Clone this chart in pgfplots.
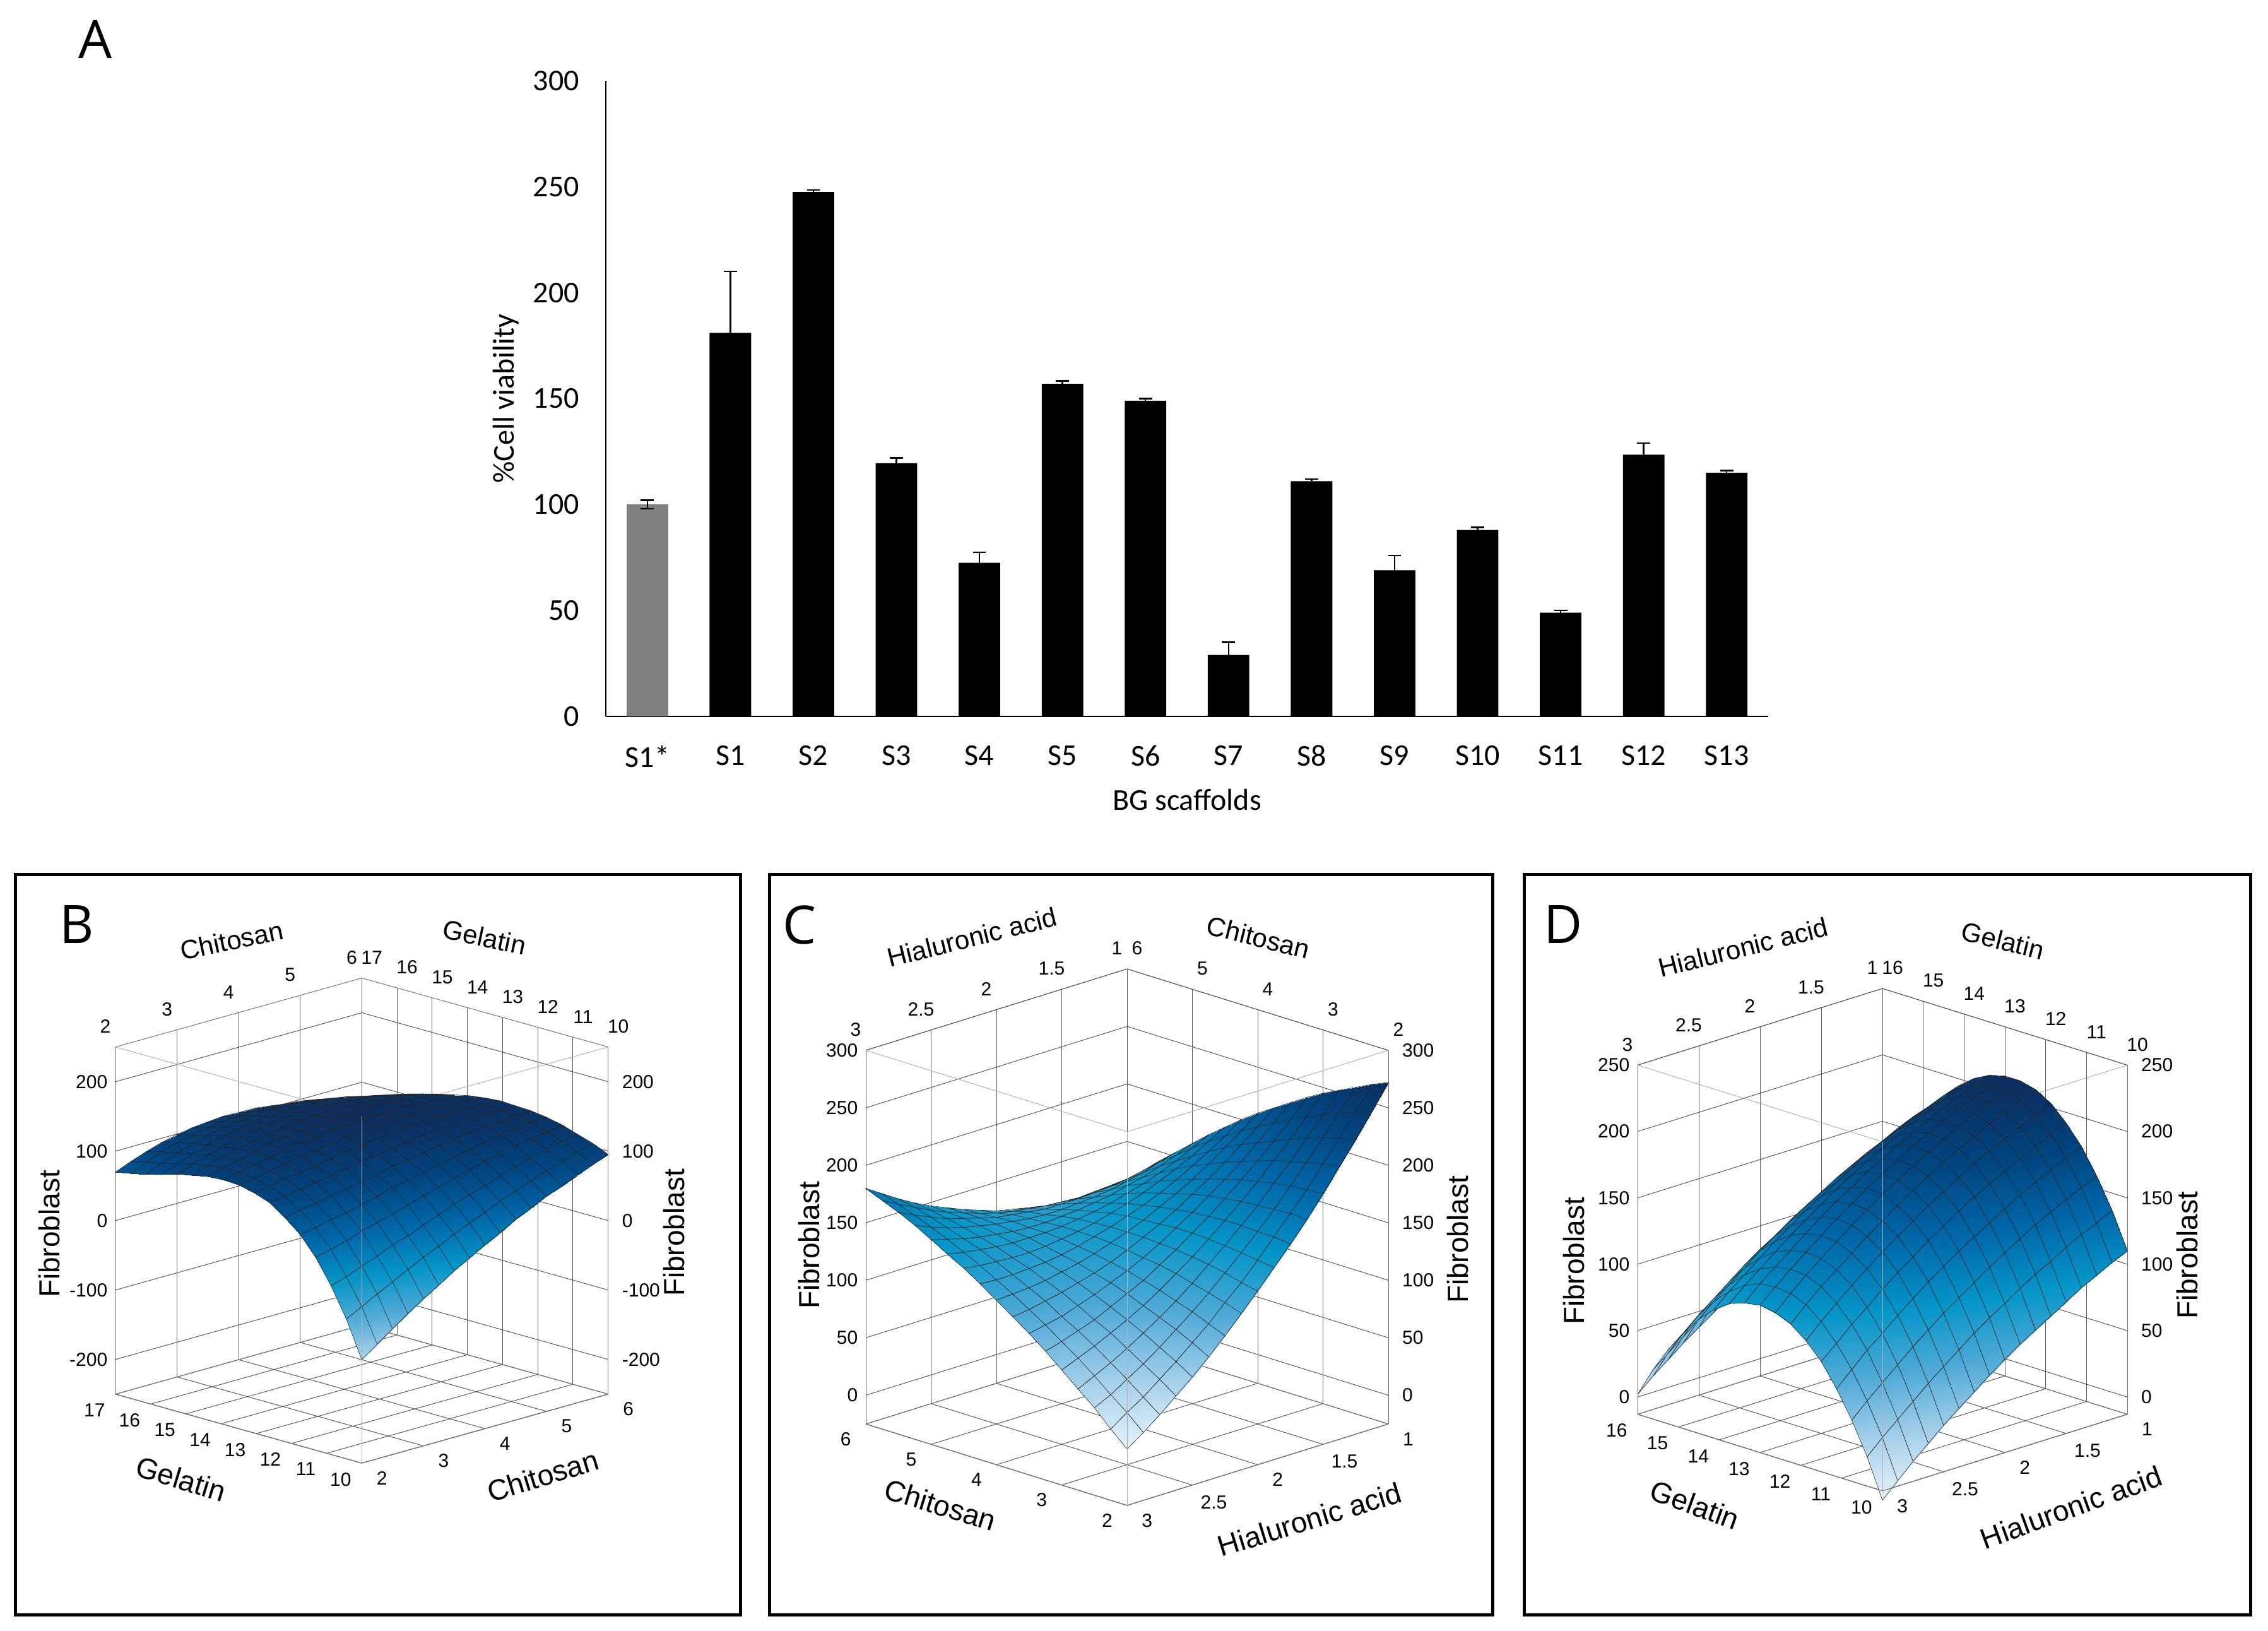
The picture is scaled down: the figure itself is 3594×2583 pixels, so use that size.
\documentclass[border=0pt]{standalone}
\usepackage{fontspec}
\setmainfont{Liberation Sans}
\newfontfamily\carlito{Carlito}
\newfontfamily\opensans{Open Sans}
\usepackage{pgfplots}
\usepackage{pgfplotstable}
\pgfplotsset{compat=1.18}

\tikzset{
  frontlight/.style={black!30,line width=0.25pt},
  frontdark/.style={black!55,line width=0.25pt},
}
\pgfplotsset{
  colormap={dblue}{rgb255=(232,243,251) rgb255=(165,208,235) rgb255=(80,170,215) rgb255=(5,150,200) rgb255=(0,105,170) rgb255=(0,70,130) rgb255=(12,46,95)},
  surfbox/.style={
    3d box=background,
    colormap name=dblue,
    grid=major,
    grid style={black!65,line width=0.25pt},
    axis line style={black!55,line width=0.25pt},
    major tick length=0pt,
    tick label style={font=\fontsize{7.5}{9}\selectfont,inner sep=1pt},
    xticklabel style={xshift=5pt,yshift=-2pt},
    yticklabel style={xshift=-5pt,yshift=-2pt},
    zticklabel style={xshift=-2pt},
    /pgf/number format/assume math mode=true,
    clip=false,
  },
  surfplot/.style={
    surf,shader=faceted interp,z buffer=sort,
    faceted color=black!85,line width=0.15pt,
    mesh/rows=17,mesh/cols=17,mesh/ordering=y varies,
  },
}
\newcommand{\tl}{\fontsize{7.5}{9}\selectfont}
\newcommand{\ttitle}{\fontsize{10.5}{12}\selectfont}
\newcommand{\ftitle}{\fontsize{11.5}{13}\selectfont}

\pgfplotstableread{
chi gel z
2 10 -101
2 10.4375 -49
2 10.875 -7
2 11.3125 28
2 11.75 54
2 12.1875 73
2 12.625 88
2 13.0625 96
2 13.5 101
2 13.9375 102
2 14.375 101
2 14.8125 96
2 15.25 92
2 15.6875 85
2 16.125 79
2 16.5625 74
2 17 70
2.25 10 -85
2.25 10.4375 -37
2.25 10.875 0
2.25 11.3125 33
2.25 11.75 58
2.25 12.1875 77
2.25 12.625 91
2.25 13.0625 99
2.25 13.5 105
2.25 13.9375 107
2.25 14.375 107
2.25 14.8125 104
2.25 15.25 100
2.25 15.6875 94
2.25 16.125 89
2.25 16.5625 84
2.25 17 79
2.5 10 -69
2.5 10.4375 -25
2.5 10.875 9
2.5 11.3125 39
2.5 11.75 64
2.5 12.1875 81
2.5 12.625 95
2.5 13.0625 104
2.5 13.5 109
2.5 13.9375 112
2.5 14.375 112
2.5 14.8125 111
2.5 15.25 107
2.5 15.6875 102
2.5 16.125 97
2.5 16.5625 93
2.5 17 87
2.75 10 -53
2.75 10.4375 -14
2.75 10.875 17
2.75 11.3125 47
2.75 11.75 67
2.75 12.1875 85
2.75 12.625 98
2.75 13.0625 106
2.75 13.5 113
2.75 13.9375 116
2.75 14.375 118
2.75 14.8125 116
2.75 15.25 113
2.75 15.6875 109
2.75 16.125 105
2.75 16.5625 100
2.75 17 94
3 10 -38
3 10.4375 -2
3 10.875 27
3 11.3125 53
3 11.75 73
3 12.1875 89
3 12.625 102
3 13.0625 110
3 13.5 117
3 13.9375 120
3 14.375 123
3 14.8125 121
3 15.25 119
3 15.6875 116
3 16.125 110
3 16.5625 104
3 17 99
3.25 10 -25
3.25 10.4375 9
3.25 10.875 34
3.25 11.3125 59
3.25 11.75 78
3.25 12.1875 93
3.25 12.625 106
3.25 13.0625 114
3.25 13.5 120
3.25 13.9375 125
3.25 14.375 127
3.25 14.8125 125
3.25 15.25 123
3.25 15.6875 120
3.25 16.125 116
3.25 16.5625 109
3.25 17 103
3.5 10 -10
3.5 10.4375 19
3.5 10.875 43
3.5 11.3125 66
3.5 11.75 85
3.5 12.1875 97
3.5 12.625 110
3.5 13.0625 118
3.5 13.5 123
3.5 13.9375 126
3.5 14.375 130
3.5 14.8125 129
3.5 15.25 127
3.5 15.6875 124
3.5 16.125 118
3.5 16.5625 112
3.5 17 105
3.75 10 2
3.75 10.4375 30
3.75 10.875 52
3.75 11.3125 73
3.75 11.75 89
3.75 12.1875 103
3.75 12.625 114
3.75 13.0625 121
3.75 13.5 127
3.75 13.9375 131
3.75 14.375 133
3.75 14.8125 132
3.75 15.25 129
3.75 15.6875 126
3.75 16.125 121
3.75 16.5625 113
3.75 17 107
4 10 15
4 10.4375 40
4 10.875 61
4 11.3125 79
4 11.75 94
4 12.1875 106
4 12.625 117
4 13.0625 124
4 13.5 129
4 13.9375 132
4 14.375 134
4 14.8125 133
4 15.25 131
4 15.6875 126
4 16.125 122
4 16.5625 114
4 17 106
4.25 10 26
4.25 10.4375 49
4.25 10.875 68
4.25 11.3125 86
4.25 11.75 99
4.25 12.1875 110
4.25 12.625 120
4.25 13.0625 127
4.25 13.5 130
4.25 13.9375 135
4.25 14.375 135
4.25 14.8125 133
4.25 15.25 132
4.25 15.6875 126
4.25 16.125 121
4.25 16.5625 113
4.25 17 106
4.5 10 39
4.5 10.4375 59
4.5 10.875 75
4.5 11.3125 92
4.5 11.75 104
4.5 12.1875 114
4.5 12.625 123
4.5 13.0625 130
4.5 13.5 133
4.5 13.9375 134
4.5 14.375 135
4.5 14.8125 133
4.5 15.25 130
4.5 15.6875 126
4.5 16.125 120
4.5 16.5625 112
4.5 17 103
4.75 10 49
4.75 10.4375 68
4.75 10.875 83
4.75 11.3125 98
4.75 11.75 109
4.75 12.1875 118
4.75 12.625 125
4.75 13.0625 130
4.75 13.5 134
4.75 13.9375 134
4.75 14.375 136
4.75 14.8125 132
4.75 15.25 129
4.75 15.6875 123
4.75 16.125 117
4.75 16.5625 110
4.75 17 99
5 10 60
5 10.4375 76
5 10.875 90
5 11.3125 103
5 11.75 113
5 12.1875 121
5 12.625 127
5 13.0625 131
5 13.5 134
5 13.9375 135
5 14.375 134
5 14.8125 130
5 15.25 126
5 15.6875 121
5 16.125 114
5 16.5625 106
5 17 96
5.25 10 68
5.25 10.4375 84
5.25 10.875 96
5.25 11.3125 108
5.25 11.75 117
5.25 12.1875 123
5.25 12.625 128
5.25 13.0625 132
5.25 13.5 133
5.25 13.9375 132
5.25 14.375 131
5.25 14.8125 128
5.25 15.25 124
5.25 15.6875 117
5.25 16.125 110
5.25 16.5625 101
5.25 17 90
5.5 10 78
5.5 10.4375 91
5.5 10.875 103
5.5 11.3125 112
5.5 11.75 120
5.5 12.1875 124
5.5 12.625 130
5.5 13.0625 132
5.5 13.5 131
5.5 13.9375 130
5.5 14.375 128
5.5 14.8125 124
5.5 15.25 118
5.5 15.6875 112
5.5 16.125 104
5.5 16.5625 94
5.5 17 84
5.75 10 87
5.75 10.4375 99
5.75 10.875 108
5.75 11.3125 115
5.75 11.75 123
5.75 12.1875 126
5.75 12.625 129
5.75 13.0625 130
5.75 13.5 130
5.75 13.9375 128
5.75 14.375 125
5.75 14.8125 119
5.75 15.25 114
5.75 15.6875 107
5.75 16.125 98
5.75 16.5625 88
5.75 17 77
6 10 95
6 10.4375 105
6 10.875 112
6 11.3125 119
6 11.75 124
6 12.1875 127
6 12.625 128
6 13.0625 129
6 13.5 127
6 13.9375 124
6 14.375 119
6 14.8125 114
6 15.25 108
6 15.6875 99
6 16.125 90
6 16.5625 80
6 17 69
}\surfB

\pgfplotstableread{
ha chi z
1 2 272
1 2.25 266
1 2.5 259
1 2.75 252
1 3 245
1 3.25 237
1 3.5 228
1 3.75 219
1 4 210
1 4.25 200
1 4.5 189
1 4.75 178
1 5 166
1 5.25 154
1 5.5 142
1 5.75 128
1 6 115
1.125 2 251
1.125 2.25 246
1.125 2.5 241
1.125 2.75 235
1.125 3 229
1.125 3.25 222
1.125 3.5 215
1.125 3.75 207
1.125 4 199
1.125 4.25 190
1.125 4.5 181
1.125 4.75 171
1.125 5 160
1.125 5.25 150
1.125 5.5 138
1.125 5.75 126
1.125 6 114
1.25 2 231
1.25 2.25 228
1.25 2.5 224
1.25 2.75 219
1.25 3 214
1.25 3.25 208
1.25 3.5 202
1.25 3.75 196
1.25 4 189
1.25 4.25 181
1.25 4.5 173
1.25 4.75 164
1.25 5 155
1.25 5.25 145
1.25 5.5 135
1.25 5.75 125
1.25 6 113
1.375 2 212
1.375 2.25 210
1.375 2.5 207
1.375 2.75 203
1.375 3 200
1.375 3.25 195
1.375 3.5 190
1.375 3.75 185
1.375 4 179
1.375 4.25 173
1.375 4.5 166
1.375 4.75 158
1.375 5 150
1.375 5.25 142
1.375 5.5 133
1.375 5.75 124
1.375 6 114
1.5 2 193
1.5 2.25 192
1.5 2.5 191
1.5 2.75 189
1.5 3 186
1.5 3.25 183
1.5 3.5 179
1.5 3.75 175
1.5 4 170
1.5 4.25 165
1.5 4.5 160
1.5 4.75 153
1.5 5 147
1.5 5.25 139
1.5 5.5 132
1.5 5.75 123
1.5 6 115
1.625 2 175
1.625 2.25 176
1.625 2.5 175
1.625 2.75 174
1.625 3 173
1.625 3.25 171
1.625 3.5 169
1.625 3.75 166
1.625 4 162
1.625 4.25 158
1.625 4.5 154
1.625 4.75 149
1.625 5 143
1.625 5.25 137
1.625 5.5 131
1.625 5.75 124
1.625 6 116
1.75 2 158
1.75 2.25 160
1.75 2.5 160
1.75 2.75 161
1.75 3 161
1.75 3.25 160
1.75 3.5 159
1.75 3.75 157
1.75 4 155
1.75 4.25 152
1.75 4.5 149
1.75 4.75 145
1.75 5 141
1.75 5.25 136
1.75 5.5 131
1.75 5.75 125
1.75 6 119
1.875 2 142
1.875 2.25 144
1.875 2.5 146
1.875 2.75 148
1.875 3 149
1.875 3.25 150
1.875 3.5 150
1.875 3.75 149
1.875 4 148
1.875 4.25 147
1.875 4.5 145
1.875 4.75 142
1.875 5 139
1.875 5.25 135
1.875 5.5 131
1.875 5.75 127
1.875 6 122
2 2 126
2 2.25 129
2 2.5 133
2 2.75 136
2 3 138
2 3.25 140
2 3.5 141
2 3.75 142
2 4 142
2 4.25 142
2 4.5 141
2 4.75 140
2 5 138
2 5.25 135
2 5.5 133
2 5.75 129
2 6 125
2.125 2 111
2.125 2.25 116
2.125 2.5 120
2.125 2.75 124
2.125 3 128
2.125 3.25 131
2.125 3.5 133
2.125 3.75 135
2.125 4 137
2.125 4.25 138
2.125 4.5 138
2.125 4.75 138
2.125 5 137
2.125 5.25 136
2.125 5.5 135
2.125 5.75 132
2.125 6 130
2.25 2 96
2.25 2.25 102
2.25 2.5 108
2.25 2.75 113
2.25 3 118
2.25 3.25 122
2.25 3.5 126
2.25 3.75 129
2.25 4 132
2.25 4.25 134
2.25 4.5 136
2.25 4.75 137
2.25 5 137
2.25 5.25 138
2.25 5.5 137
2.25 5.75 136
2.25 6 135
2.375 2 82
2.375 2.25 90
2.375 2.5 97
2.375 2.75 103
2.375 3 109
2.375 3.25 115
2.375 3.5 120
2.375 3.75 124
2.375 4 128
2.375 4.25 131
2.375 4.5 134
2.375 4.75 137
2.375 5 138
2.375 5.25 140
2.375 5.5 141
2.375 5.75 141
2.375 6 141
2.5 2 69
2.5 2.25 78
2.5 2.5 86
2.5 2.75 94
2.5 3 101
2.5 3.25 108
2.5 3.5 114
2.5 3.75 120
2.5 4 125
2.5 4.25 129
2.5 4.5 133
2.5 4.75 137
2.5 5 140
2.5 5.25 143
2.5 5.5 145
2.5 5.75 146
2.5 6 147
2.625 2 57
2.625 2.25 67
2.625 2.5 76
2.625 2.75 85
2.625 3 94
2.625 3.25 101
2.625 3.5 109
2.625 3.75 116
2.625 4 122
2.625 4.25 128
2.625 4.5 133
2.625 4.75 138
2.625 5 142
2.625 5.25 146
2.625 5.5 149
2.625 5.75 152
2.625 6 154
2.75 2 45
2.75 2.25 56
2.75 2.5 67
2.75 2.75 77
2.75 3 87
2.75 3.25 96
2.75 3.5 104
2.75 3.75 113
2.75 4 120
2.75 4.25 127
2.75 4.5 134
2.75 4.75 140
2.75 5 145
2.75 5.25 150
2.75 5.5 155
2.75 5.75 159
2.75 6 162
2.875 2 34
2.875 2.25 47
2.875 2.5 58
2.875 2.75 70
2.875 3 81
2.875 3.25 91
2.875 3.5 101
2.875 3.75 110
2.875 4 119
2.875 4.25 127
2.875 4.5 135
2.875 4.75 142
2.875 5 149
2.875 5.25 155
2.875 5.5 161
2.875 5.75 166
2.875 6 171
3 2 24
3 2.25 37
3 2.5 51
3 2.75 63
3 3 75
3 3.25 87
3 3.5 98
3 3.75 108
3 4 118
3 4.25 128
3 4.5 137
3 4.75 145
3 5 153
3 5.25 161
3 5.5 168
3 5.75 174
3 6 180
}\surfC

\pgfplotstableread{
ha gel z
1 10 110
1 10.375 137
1 10.75 159
1 11.125 178
1 11.5 192
1 11.875 203
1 12.25 210
1 12.625 213
1 13 213
1 13.375 210
1 13.75 204
1 14.125 195
1 14.5 183
1 14.875 169
1 15.25 152
1 15.625 133
1 16 112
1.125 10 105
1.125 10.375 131
1.125 10.75 154
1.125 11.125 173
1.125 11.5 187
1.125 11.875 198
1.125 12.25 205
1.125 12.625 209
1.125 13 209
1.125 13.375 206
1.125 13.75 200
1.125 14.125 191
1.125 14.5 179
1.125 14.875 165
1.125 15.25 148
1.125 15.625 129
1.125 16 107
1.25 10 99
1.25 10.375 126
1.25 10.75 149
1.25 11.125 167
1.25 11.5 182
1.25 11.875 193
1.25 12.25 200
1.25 12.625 204
1.25 13 204
1.25 13.375 201
1.25 13.75 195
1.25 14.125 186
1.25 14.5 175
1.25 14.875 160
1.25 15.25 143
1.25 15.625 124
1.25 16 103
1.375 10 93
1.375 10.375 120
1.375 10.75 143
1.375 11.125 162
1.375 11.5 176
1.375 11.875 187
1.375 12.25 195
1.375 12.625 199
1.375 13 199
1.375 13.375 196
1.375 13.75 190
1.375 14.125 181
1.375 14.5 170
1.375 14.875 155
1.375 15.25 138
1.375 15.625 119
1.375 16 98
1.5 10 86
1.5 10.375 113
1.5 10.75 137
1.5 11.125 156
1.5 11.5 170
1.5 11.875 182
1.5 12.25 189
1.5 12.625 193
1.5 13 194
1.5 13.375 191
1.5 13.75 185
1.5 14.125 176
1.5 14.5 164
1.5 14.875 150
1.5 15.25 133
1.5 15.625 114
1.5 16 92
1.625 10 79
1.625 10.375 107
1.625 10.75 130
1.625 11.125 149
1.625 11.5 164
1.625 11.875 176
1.625 12.25 183
1.625 12.625 187
1.625 13 188
1.625 13.375 185
1.625 13.75 179
1.625 14.125 171
1.625 14.5 159
1.625 14.875 145
1.625 15.25 128
1.625 15.625 108
1.625 16 87
1.75 10 72
1.75 10.375 100
1.75 10.75 123
1.75 11.125 142
1.75 11.5 158
1.75 11.875 169
1.75 12.25 177
1.75 12.625 181
1.75 13 182
1.75 13.375 179
1.75 13.75 173
1.75 14.125 165
1.75 14.5 153
1.75 14.875 139
1.75 15.25 122
1.75 15.625 102
1.75 16 81
1.875 10 65
1.875 10.375 92
1.875 10.75 116
1.875 11.125 135
1.875 11.5 151
1.875 11.875 162
1.875 12.25 170
1.875 12.625 174
1.875 13 175
1.875 13.375 172
1.875 13.75 167
1.875 14.125 158
1.875 14.5 147
1.875 14.875 132
1.875 15.25 115
1.875 15.625 96
1.875 16 74
2 10 57
2 10.375 85
2 10.75 108
2 11.125 128
2 11.5 143
2 11.875 155
2 12.25 163
2 12.625 167
2 13 168
2 13.375 166
2 13.75 160
2 14.125 151
2 14.5 140
2 14.875 126
2 15.25 109
2 15.625 90
2 16 68
2.125 10 49
2.125 10.375 77
2.125 10.75 100
2.125 11.125 120
2.125 11.5 136
2.125 11.875 147
2.125 12.25 155
2.125 12.625 160
2.125 13 161
2.125 13.375 158
2.125 13.75 153
2.125 14.125 144
2.125 14.5 133
2.125 14.875 119
2.125 15.25 102
2.125 15.625 83
2.125 16 61
2.25 10 40
2.25 10.375 68
2.25 10.75 92
2.25 11.125 112
2.25 11.5 127
2.25 11.875 139
2.25 12.25 147
2.25 12.625 152
2.25 13 153
2.25 13.375 151
2.25 13.75 145
2.25 14.125 137
2.25 14.5 126
2.25 14.875 111
2.25 15.25 95
2.25 15.625 75
2.25 16 54
2.375 10 31
2.375 10.375 59
2.375 10.75 83
2.375 11.125 103
2.375 11.5 119
2.375 11.875 131
2.375 12.25 139
2.375 12.625 144
2.375 13 145
2.375 13.375 143
2.375 13.75 137
2.375 14.125 129
2.375 14.5 118
2.375 14.875 104
2.375 15.25 87
2.375 15.625 68
2.375 16 46
2.5 10 22
2.5 10.375 50
2.5 10.75 74
2.5 11.125 94
2.5 11.5 110
2.5 11.875 122
2.5 12.25 130
2.5 12.625 135
2.5 13 136
2.5 13.375 134
2.5 13.75 129
2.5 14.125 121
2.5 14.5 110
2.5 14.875 96
2.5 15.25 79
2.5 15.625 60
2.5 16 38
2.625 10 12
2.625 10.375 40
2.625 10.75 64
2.625 11.125 84
2.625 11.5 100
2.625 11.875 113
2.625 12.25 121
2.625 12.625 126
2.625 13 127
2.625 13.375 125
2.625 13.75 120
2.625 14.125 112
2.625 14.5 101
2.625 14.875 87
2.625 15.25 70
2.625 15.625 51
2.625 16 30
2.75 10 2
2.75 10.375 30
2.75 10.75 54
2.75 11.125 75
2.75 11.5 91
2.75 11.875 103
2.75 12.25 112
2.75 12.625 117
2.75 13 118
2.75 13.375 116
2.75 13.75 111
2.75 14.125 103
2.75 14.5 92
2.75 14.875 78
2.75 15.25 62
2.75 15.625 42
2.75 16 21
2.875 10 -9
2.875 10.375 20
2.875 10.75 44
2.875 11.125 64
2.875 11.5 80
2.875 11.875 93
2.875 12.25 102
2.875 12.625 107
2.875 13 108
2.875 13.375 107
2.875 13.75 102
2.875 14.125 94
2.875 14.5 83
2.875 14.875 69
2.875 15.25 52
2.875 15.625 33
2.875 16 12
3 10 -20
3 10.375 9
3 10.75 33
3 11.125 53
3 11.5 70
3 11.875 82
3 12.25 91
3 12.625 96
3 13 98
3 13.375 96
3 13.75 92
3 14.125 84
3 14.5 73
3 14.875 59
3 15.25 43
3 15.625 24
3 16 2
}\surfD

\begin{document}
\begin{tikzpicture}[x=0.25pt,y=0.25pt]
\useasboundingbox (0,0) rectangle (3594,2583);

% A: bar chart
\begin{axis}[
  at={(240pt,362pt)},anchor=south west,
  width=460.5pt,height=251.75pt,scale only axis,
  xmin=-0.5,xmax=13.5,ymin=0,ymax=300,
  axis lines=left,axis line style={-,line width=0.6pt},
  ytick={0,50,100,150,200,250,300},
  xtick={0,...,13},
  xticklabels={S1*,S1,S2,S3,S4,S5,S6,S7,S8,S9,S10,S11,S12,S13},
  major tick length=0pt,
  tick label style={font=\carlito\fontsize{12}{14}\selectfont},
  yticklabel style={xshift=-7pt},
  xticklabel style={yshift=-8pt},
  /pgf/number format/assume math mode=true,
  xlabel={BG scaffolds},ylabel={\%Cell viability},
  label style={font=\carlito\fontsize{12}{14}\selectfont},
  xlabel style={at={(axis description cs:0.5,0)},anchor=center,yshift=-33pt},
  ylabel style={at={(axis description cs:0,0.5)},anchor=center,xshift=0pt,yshift=39.5pt},
  ybar,bar width=0.5,bar shift=0pt,
  error bars/error bar style={black,line width=0.6pt},
  error bars/error mark options={rotate=90,mark size=2.6pt,line width=0.6pt},
]
\addplot[fill=black!50,draw=none,error bars/.cd,y dir=both,y explicit]
  coordinates {(0,100) +- (0,2)};
\addplot[fill=black,draw=none,error bars/.cd,y dir=plus,y explicit]
  coordinates {
  (1,181) += (0,29)
  (2,247.5) += (0,1)
  (3,119.5) += (0,2.5)
  (4,72.5) += (0,5)
  (5,157) += (0,1.3)
  (6,149) += (0,1)
  (7,29) += (0,6)
  (8,111) += (0,1)
  (9,69) += (0,7)
  (10,88) += (0,1.2)
  (11,49) += (0,1)
  (12,123.5) += (0,5.5)
  (13,115) += (0,1)
  };
\end{axis}

% B
\begin{axis}[surfbox,
  at={(45.75pt,66.25pt)},anchor=south west,
  x={(24.4pt,6.83pt)},y={(-13.94pt,3.9pt)},z={(0pt,0.275pt)},
  xmin=2,xmax=6,ymin=10,ymax=17,zmin=-250,zmax=250,
  xtick={2,...,6},ytick={10,...,17},ztick={-200,-100,0,100,200},
  point meta min=-143,point meta max=135,
]
\draw[frontlight] (axis cs:2,17,250)--(axis cs:2,10,250)--(axis cs:6,10,250);
\addplot3[surfplot] table[x=chi,y=gel,z=z] {\surfB};
\draw[frontlight] (axis cs:2,10,-250)--(axis cs:2,10,250);
\draw[frontdark] (axis cs:2,17,-250)--(axis cs:2,10,-250)--(axis cs:6,10,-250);
\pgfplotsinvokeforeach{2,3,4,5,6}{\node[anchor=south,font=\tl,xshift=-4pt,yshift=2pt] at (axis cs:#1,17,250) {#1};}
\pgfplotsinvokeforeach{10,11,12,13,14,15,16,17}{\node[anchor=south,font=\tl,xshift=4pt,yshift=2pt] at (axis cs:6,#1,250) {#1};}
\pgfplotsinvokeforeach{-200,-100,0,100,200}{\node[anchor=west,font=\tl,xshift=2pt] at (axis cs:6,10,#1) {#1};}
\end{axis}

% C
\begin{axis}[surfbox,
  at={(343pt,49.5pt)},anchor=south west,
  x dir=reverse,
  x={(51.75pt,16.12pt)},y={(-25.875pt,8.06pt)},z={(0pt,0.4554pt)},
  xmin=1,xmax=3,ymin=2,ymax=6,zmin=-25,zmax=300,
  xtick={1,1.5,2,2.5,3},ytick={2,...,6},ztick={0,50,...,300},
  point meta min=24,point meta max=272,
]
\draw[frontlight] (axis cs:3,6,300)--(axis cs:3,2,300)--(axis cs:1,2,300);
\addplot3[surfplot] table[x=ha,y=chi,z=z] {\surfC};
\draw[frontlight] (axis cs:3,2,-25)--(axis cs:3,2,300);
\draw[frontdark] (axis cs:3,6,-25)--(axis cs:3,2,-25)--(axis cs:1,2,-25);
\pgfplotsinvokeforeach{1,1.5,2,2.5,3}{\node[anchor=south,font=\tl,xshift=-4pt,yshift=2pt] at (axis cs:#1,6,300) {#1};}
\pgfplotsinvokeforeach{2,3,4,5,6}{\node[anchor=south,font=\tl,xshift=4pt,yshift=2pt] at (axis cs:1,#1,300) {#1};}
\pgfplotsinvokeforeach{0,50,100,150,200,250,300}{\node[anchor=west,font=\tl,xshift=2pt] at (axis cs:1,2,#1) {#1};}
\end{axis}

% D
\begin{axis}[surfbox,
  at={(648.75pt,55.25pt)},anchor=south west,
  x dir=reverse,
  x={(48.5pt,15.17pt)},y={(-16.167pt,5.058pt)},z={(0pt,0.5258pt)},
  xmin=1,xmax=3,ymin=10,ymax=16,zmin=-13,zmax=250,
  xtick={1,1.5,2,2.5,3},ytick={10,...,16},ztick={0,50,...,250},
  point meta min=-20,point meta max=213,
]
\draw[frontlight] (axis cs:3,16,250)--(axis cs:3,10,250)--(axis cs:1,10,250);
\addplot3[surfplot] table[x=ha,y=gel,z=z] {\surfD};
\draw[frontlight] (axis cs:3,10,-13)--(axis cs:3,10,250);
\draw[frontdark] (axis cs:3,16,-13)--(axis cs:3,10,-13)--(axis cs:1,10,-13);
\pgfplotsinvokeforeach{1,1.5,2,2.5,3}{\node[anchor=south,font=\tl,xshift=-4pt,yshift=2pt] at (axis cs:#1,16,250) {#1};}
\pgfplotsinvokeforeach{10,11,12,13,14,15,16}{\node[anchor=south,font=\tl,xshift=4pt,yshift=2pt] at (axis cs:1,#1,250) {#1};}
\pgfplotsinvokeforeach{0,50,100,150,200,250}{\node[anchor=west,font=\tl,xshift=2pt] at (axis cs:1,10,#1) {#1};}
\end{axis}

% panel frames
\draw[line width=1.25pt] (24,25) rectangle (1173,1197);
\draw[line width=1.25pt] (1219,25) rectangle (2365,1197);
\draw[line width=1.25pt] (2415,25) rectangle (3566,1197);

% panel letters
\node[font=\opensans\fontsize{21}{24}\selectfont] at (151,2521) {A};
\node[font=\opensans\fontsize{21}{24}\selectfont] at (122,1118) {B};
\node[font=\opensans\fontsize{21}{24}\selectfont] at (1267,1118) {C};
\node[font=\opensans\fontsize{21}{24}\selectfont] at (2477,1118) {D};

% titles round the boxes
\node[font=\ttitle,rotate=12] at (367,1093) {Chitosan};
\node[font=\ttitle,rotate=-12] at (768,1098) {Gelatin};
\node[font=\ftitle,rotate=-17] at (287,240) {Gelatin};
\node[font=\ftitle,rotate=17] at (860,245) {Chitosan};
\node[font=\ftitle,rotate=90] at (78,628) {Fibroblast};
\node[font=\ftitle,rotate=90] at (1068,630) {Fibroblast};

\node[font=\ttitle,rotate=14] at (1540,1098) {Hialuronic acid};
\node[font=\ttitle,rotate=-14] at (1994,1098) {Chitosan};
\node[font=\ftitle,rotate=-17] at (1490,199) {Chitosan};
\node[font=\ftitle,rotate=17] at (2075,176) {Hialuronic acid};
\node[font=\ftitle,rotate=90] at (1282,610) {Fibroblast};
\node[font=\ftitle,rotate=90] at (2310,619) {Fibroblast};

\node[font=\ttitle,rotate=14] at (2762,1082) {Hialuronic acid};
\node[font=\ttitle,rotate=-14] at (3174,1093) {Gelatin};
\node[font=\ftitle,rotate=-20] at (2686,199) {Gelatin};
\node[font=\ftitle,rotate=20] at (3282,195) {Hialuronic acid};
\node[font=\ftitle,rotate=90] at (2494,585) {Fibroblast};
\node[font=\ftitle,rotate=90] at (3466,594) {Fibroblast};
\end{tikzpicture}
\end{document}
